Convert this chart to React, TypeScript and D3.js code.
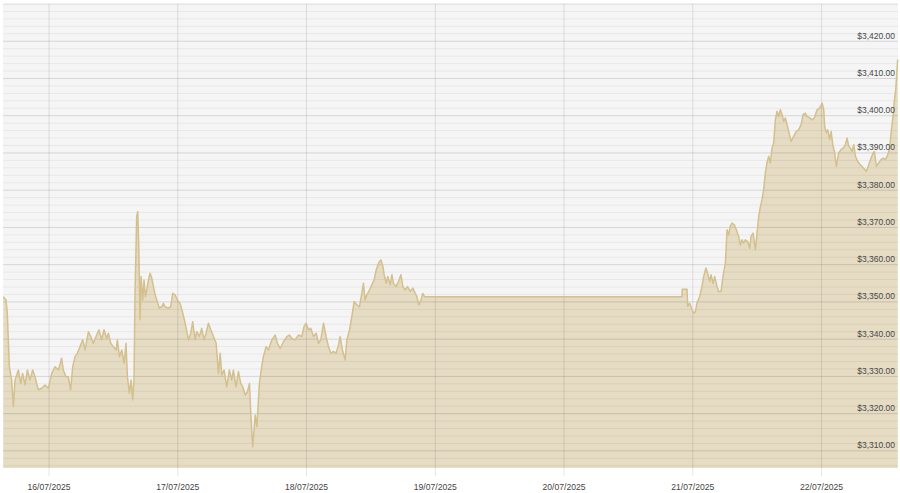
import React from "react";
import * as d3 from "d3";

// time as fractional day of July 2025 (UTC)
const times: number[] = [
  15.645, 15.666, 15.676, 15.692, 15.710, 15.723, 15.736, 15.762, 15.780, 15.795,
  15.814, 15.832, 15.852, 15.873, 15.891, 15.904, 15.917, 15.943, 15.969, 15.995,
  16.021, 16.047, 16.073, 16.098, 16.111, 16.132, 16.150, 16.168, 16.184, 16.202,
  16.220, 16.241, 16.262, 16.280, 16.306, 16.324, 16.344, 16.370, 16.388, 16.409,
  16.427, 16.448, 16.461, 16.479, 16.500, 16.521, 16.531, 16.547, 16.565, 16.583,
  16.598, 16.609, 16.624, 16.637, 16.650, 16.660, 16.668, 16.681, 16.689, 16.697,
  16.707, 16.715, 16.728, 16.738, 16.749, 16.759, 16.772, 16.785, 16.798, 16.811,
  16.824, 16.837, 16.857, 16.875, 16.888, 16.901, 16.927, 16.945, 16.961, 16.979,
  16.997, 17.018, 17.039, 17.057, 17.083, 17.101, 17.116, 17.134, 17.147, 17.168,
  17.186, 17.204, 17.220, 17.238, 17.256, 17.277, 17.298, 17.316, 17.329, 17.342,
  17.360, 17.380, 17.401, 17.419, 17.432, 17.453, 17.471, 17.489,
  17.505, 17.523, 17.541, 17.557, 17.567, 17.582, 17.601, 17.614, 17.634, 17.652,
  17.665, 17.686, 17.704, 17.730, 17.756, 17.774, 17.795, 17.821, 17.847, 17.867,
  17.886, 17.911, 17.937, 17.963, 17.981, 17.997, 18.015, 18.033, 18.054, 18.075,
  18.093, 18.111, 18.132, 18.152, 18.170, 18.189, 18.209, 18.230, 18.248, 18.261,
  18.279, 18.300, 18.313, 18.334, 18.352, 18.370, 18.391, 18.411, 18.429, 18.442,
  18.455, 18.468, 18.489, 18.507, 18.525, 18.541, 18.559, 18.577, 18.593, 18.603,
  18.619, 18.631, 18.650, 18.663, 18.675, 18.696, 18.714, 18.733, 18.748, 18.766,
  18.784, 18.805, 18.826, 18.844, 18.857, 18.872, 18.888, 18.903, 18.916,
  20.916, 20.918, 20.955, 20.960, 20.975, 20.994, 21.007, 21.020, 21.032, 21.053,
  21.071, 21.084, 21.102, 21.115, 21.131, 21.141, 21.157, 21.170, 21.188, 21.201,
  21.219, 21.234, 21.253, 21.266, 21.278, 21.291, 21.304, 21.322, 21.338, 21.356,
  21.369, 21.382, 21.395, 21.408, 21.426, 21.442, 21.452, 21.468, 21.486, 21.499,
  21.512, 21.525, 21.537, 21.550, 21.563, 21.576, 21.589, 21.602, 21.615, 21.628,
  21.641, 21.654, 21.667, 21.680, 21.693, 21.706, 21.719, 21.732, 21.745, 21.763,
  21.784, 21.804, 21.822, 21.841, 21.856, 21.874, 21.887, 21.908, 21.926, 21.944,
  21.965, 21.986, 22.004, 22.017, 22.024, 22.037, 22.048, 22.063, 22.074, 22.089,
  22.100, 22.115, 22.133, 22.151, 22.167, 22.185, 22.198, 22.211, 22.224, 22.237,
  22.250, 22.263, 22.281, 22.301, 22.327, 22.348, 22.366, 22.384, 22.400, 22.410,
  22.426, 22.444, 22.462, 22.478, 22.496, 22.514, 22.529, 22.540, 22.555, 22.566,
  22.576, 22.591,
];

const prices: number[] = [
  3351.4, 3350.5, 3347.0, 3332.6, 3329.0, 3321.9, 3329.0, 3331.7, 3328.1, 3330.8,
  3327.7, 3331.7, 3329.0, 3331.7, 3329.9, 3328.1, 3326.4, 3326.8, 3327.7, 3326.8,
  3330.8, 3332.6, 3331.7, 3334.9, 3331.7, 3329.9, 3329.9, 3326.4, 3332.6, 3335.3,
  3336.2, 3338.0, 3339.8, 3337.1, 3342.0, 3340.7, 3338.9, 3341.1, 3342.5, 3339.8,
  3342.5, 3340.2, 3341.6, 3338.9, 3338.0, 3337.1, 3339.8, 3335.3, 3337.1, 3333.5,
  3338.9, 3329.9, 3325.5, 3329.0, 3323.7, 3329.0, 3352.3, 3373.0, 3374.3, 3364.9,
  3345.2, 3356.8, 3350.5, 3355.9, 3351.4, 3353.2, 3355.9, 3357.7, 3356.4, 3354.1,
  3351.9, 3350.5, 3348.3, 3348.7, 3349.6, 3348.7, 3348.3, 3348.7, 3352.3, 3351.9,
  3350.5, 3349.6, 3347.0, 3344.3, 3339.8, 3341.6, 3344.7, 3339.8, 3342.0, 3340.7,
  3342.9, 3339.8, 3341.6, 3344.3, 3342.5, 3340.7, 3338.9, 3330.8, 3336.2, 3330.4,
  3331.7, 3327.2, 3331.7, 3329.0, 3331.7, 3327.2, 3331.3, 3328.1,
  3327.2, 3325.0, 3325.9, 3328.1, 3320.1, 3311.1, 3319.6, 3316.5, 3328.1, 3332.6,
  3335.3, 3338.0, 3337.1, 3339.8, 3341.1, 3338.9, 3337.5, 3339.3, 3340.7, 3341.1,
  3340.2, 3339.8, 3341.1, 3340.7, 3343.4, 3344.3, 3342.5, 3342.9, 3340.7, 3341.6,
  3338.9, 3339.8, 3344.3, 3340.7, 3338.0, 3336.2, 3336.7, 3336.2, 3338.4, 3340.7,
  3337.1, 3334.4, 3339.8, 3342.5, 3346.1, 3350.1, 3349.2, 3348.7, 3352.3, 3355.0,
  3350.5, 3351.9, 3353.2, 3354.6, 3355.9, 3358.6, 3360.4, 3361.3, 3359.5, 3357.3,
  3355.0, 3356.8, 3354.6, 3357.3, 3355.0, 3354.1, 3355.5, 3357.3, 3354.1, 3353.2,
  3354.1, 3352.8, 3353.7, 3352.3, 3351.4, 3349.2, 3350.5, 3352.3, 3351.4,
  3351.4, 3353.4, 3353.4, 3348.8, 3349.7, 3347.9, 3347.0, 3347.4, 3349.7, 3351.4,
  3354.1, 3356.8, 3359.1, 3357.7, 3355.5, 3357.3, 3355.0, 3356.8, 3354.1, 3352.8,
  3352.8, 3356.8, 3360.4, 3369.4, 3368.0, 3370.3, 3371.2, 3370.7, 3369.4, 3367.6,
  3365.3, 3366.7, 3365.8, 3366.7, 3366.2, 3364.4, 3367.6, 3368.5, 3364.0, 3368.5,
  3373.0, 3375.6, 3377.4, 3380.1, 3384.6, 3387.3, 3389.1, 3387.3, 3391.3, 3392.7,
  3398.9, 3401.2, 3399.8, 3401.6, 3400.3, 3398.5, 3399.4, 3397.6, 3395.8, 3393.1,
  3394.5, 3395.8, 3396.2, 3397.6, 3400.3, 3400.7, 3399.8, 3399.4, 3398.9, 3399.4,
  3401.6, 3402.1, 3403.4, 3401.6, 3397.1, 3395.4, 3396.2, 3393.6, 3395.8, 3391.8,
  3390.4, 3386.4, 3390.0, 3390.9, 3391.3, 3392.2, 3394.0, 3391.8, 3391.3, 3390.4,
  3392.2, 3389.1, 3387.7, 3386.8, 3385.9, 3385.0, 3386.8, 3388.6, 3390.0, 3390.4,
  3386.4, 3387.3, 3388.2, 3388.6, 3388.2, 3389.5, 3391.3, 3395.4, 3399.8, 3404.3,
  3407.0, 3415.1,
];

const dayTicks: number[] = [16, 17, 18, 19, 20, 21, 22];
const priceTicks: number[] = [3310, 3320, 3330, 3340, 3350, 3360, 3370, 3380, 3390, 3400, 3410, 3420];
const xDomainDays: number[] = [15.6426, 22.5936];
const yDomain: number[] = [3305.4, 3430];

const toDate = (d: number) => new Date(Date.UTC(2025, 6, 1) + (d - 1) * 864e5);

export default function App() {
  const W = 900, H = 493;
  const left = 3, right = 898, top = 4, bottom = 468;

  const x = d3.scaleUtc().domain(xDomainDays.map(toDate)).range([left, right]);
  const y = d3.scaleLinear().domain(yDomain).range([bottom, top]);

  const data = times.map((t, i) => ({ date: toDate(t), v: prices[i] }));

  const area = d3.area<{ date: Date; v: number }>()
    .x((d) => x(d.date))
    .y0(bottom)
    .y1((d) => y(d.v));
  const line = d3.line<{ date: Date; v: number }>()
    .x((d) => x(d.date))
    .y((d) => y(d.v));

  const minor = d3.range(3306, 3431, 2);
  const fmtDate = d3.utcFormat("%d/%m/%Y");
  const fmtPrice = (v: number) => "$" + d3.format(",.2f")(v);

  return (
    <svg width={W} height={H} style={{ position: "absolute", left: 0, top: 0, background: "#ffffff" }}
      fontFamily="'Liberation Sans', Arial, sans-serif">
      <rect x={left} y={top} width={right - left} height={bottom - top} fill="#f5f5f5" />
      <path d={area(data) || ""} fill="#e6dcc3" />
      {minor.map((v) => (
        <line key={"h" + v} x1={left} x2={right} y1={y(v)} y2={y(v)}
          stroke={v % 10 === 0 ? "rgba(0,0,0,0.13)" : "rgba(0,0,0,0.055)"} strokeWidth={1} />
      ))}
      {dayTicks.map((d) => (
        <line key={"v" + d} x1={x(toDate(d))} x2={x(toDate(d))} y1={top} y2={476}
          stroke="rgba(0,0,0,0.1)" strokeWidth={1} />
      ))}
      <path d={line(data) || ""} fill="none" stroke="#d3c08d" strokeWidth={1.5} strokeLinejoin="round" />
      {priceTicks.map((v) => (
        <text key={"yl" + v} x={895} y={y(v) - 2.5} textAnchor="end" fontSize={8.5} fill="#484848">
          {fmtPrice(v)}
        </text>
      ))}
      {dayTicks.map((d) => (
        <text key={"xl" + d} x={x(toDate(d))} y={490} textAnchor="middle" fontSize={8.6} fill="#444">
          {fmtDate(toDate(d))}
        </text>
      ))}
    </svg>
  );
}
